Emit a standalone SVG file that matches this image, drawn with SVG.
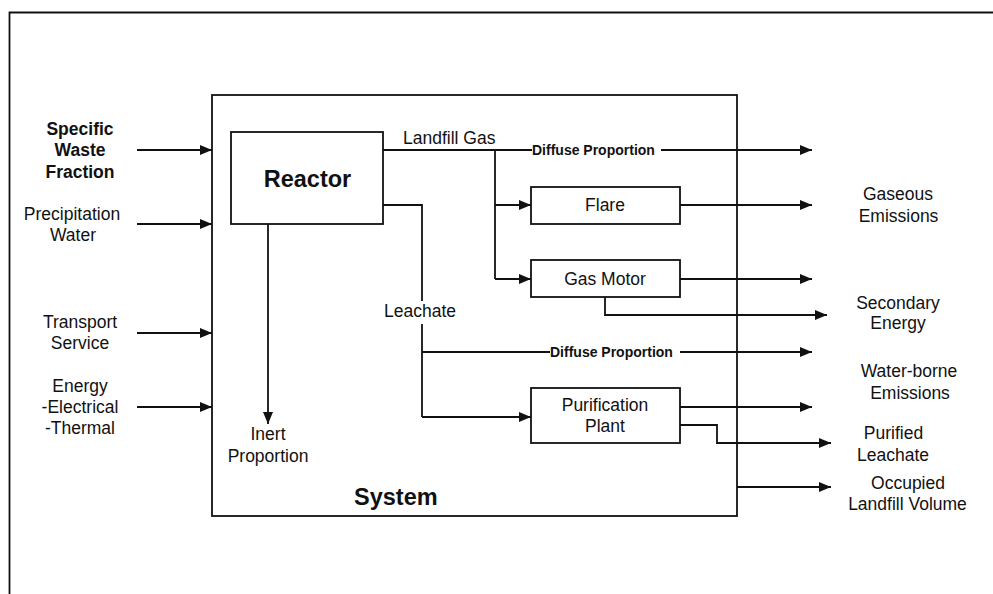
<svg xmlns="http://www.w3.org/2000/svg" width="993" height="594" viewBox="0 0 993 594">
<style>
.box{fill:none;stroke:#111;stroke-width:1.8}
.ln{fill:none;stroke:#111;stroke-width:1.8}
.arr{marker-end:url(#ah)}
text{font-family:"Liberation Sans",Arial,sans-serif;fill:#111}
.t{font-size:17.5px}
.c{text-anchor:middle}
.b{font-weight:bold}
.big{font-size:23.5px;font-weight:bold}
.sm{font-size:14px;font-weight:bold}
</style>
<defs>
<marker id="ah" viewBox="0 0 12 10" refX="12" refY="5" markerWidth="12" markerHeight="10" markerUnits="userSpaceOnUse" orient="auto">
<path d="M0,0 L12,5 L0,10 z" fill="#111"/>
</marker>
</defs>
<rect width="993" height="594" fill="#fff"/>
<path class="ln" d="M9.5 594 V12.5 H993"/>

<g id="system">
<rect class="box" x="212" y="95" width="525" height="421"/>
<text class="big" x="354" y="505">System</text>
</g>
<g id="reactor">
<rect class="box" x="231" y="132" width="152" height="92"/>
<text class="big c" x="307.5" y="186.5">Reactor</text>
</g>
<g id="flare">
<rect class="box" x="531" y="187" width="149" height="37"/>
<text class="t c" x="605" y="210.5">Flare</text>
</g>
<g id="gasmotor">
<rect class="box" x="531" y="260" width="149" height="37"/>
<text class="t c" x="605" y="284.5">Gas Motor</text>
</g>
<g id="purification">
<rect class="box" x="531" y="388" width="149" height="55"/>
<text class="t c" x="605" y="410.5">Purification</text>
<text class="t c" x="605" y="431.5">Plant</text>
</g>

<g id="input-labels">
<text class="t c b" x="80" y="134.5">Specific</text>
<text class="t c b" x="80" y="156">Waste</text>
<text class="t c b" x="80" y="178">Fraction</text>
<text class="t c" x="72" y="220">Precipitation</text>
<text class="t c" x="73" y="240.5">Water</text>
<text class="t c" x="80" y="327.5">Transport</text>
<text class="t c" x="80" y="349">Service</text>
<text class="t c" x="80" y="391.5">Energy</text>
<text class="t c" x="80" y="412.5">-Electrical</text>
<text class="t c" x="80" y="434">-Thermal</text>
</g>

<g id="output-labels">
<text class="t c" x="898" y="200">Gaseous</text>
<text class="t c" x="898.5" y="222">Emissions</text>
<text class="t c" x="898" y="309">Secondary</text>
<text class="t c" x="898" y="329">Energy</text>
<text class="t c" x="909" y="377">Water-borne</text>
<text class="t c" x="910" y="398.5">Emissions</text>
<text class="t c" x="893.5" y="439">Purified</text>
<text class="t c" x="893" y="461">Leachate</text>
<text class="t c" x="908" y="489">Occupied</text>
<text class="t c" x="907.5" y="510">Landfill Volume</text>
</g>

<g id="flow-labels">
<text class="t" x="403" y="144">Landfill Gas</text>
<text class="sm" x="532" y="155">Diffuse Proportion</text>
<text class="t" x="384" y="316.5">Leachate</text>
<text class="sm" x="550" y="357">Diffuse Proportion</text>
<text class="t c" x="268" y="440">Inert</text>
<text class="t c" x="268" y="462">Proportion</text>
</g>

<g id="connectors">
<path class="ln arr" d="M137 150 H212"/>
<path class="ln arr" d="M137 224 H212"/>
<path class="ln arr" d="M137 333 H212"/>
<path class="ln arr" d="M137 407 H212"/>
<path class="ln arr" d="M268 224 V424"/>
<path class="ln" d="M383 150 H532"/>
<path class="ln arr" d="M661 150 H812"/>
<path class="ln" d="M495 150 V279"/>
<path class="ln arr" d="M495 205 H531"/>
<path class="ln arr" d="M495 279 H531"/>
<path class="ln arr" d="M680 205 H812"/>
<path class="ln arr" d="M680 279 H812"/>
<path class="ln arr" d="M605 297 V315 H827"/>
<path class="ln" d="M383 205 H422 V301"/>
<path class="ln" d="M422 324 V417"/>
<path class="ln" d="M422 352 H550"/>
<path class="ln arr" d="M680 352 H812"/>
<path class="ln arr" d="M422 417 H531"/>
<path class="ln arr" d="M680 407 H812"/>
<path class="ln arr" d="M680 425 H717 V443 H831"/>
<path class="ln arr" d="M737 487 H831"/>
</g>
</svg>
